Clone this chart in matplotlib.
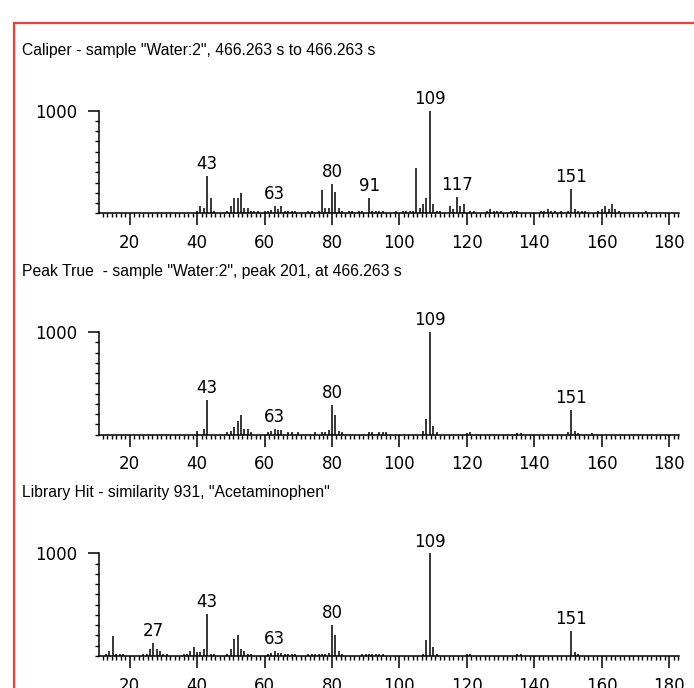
import matplotlib.pyplot as plt
from matplotlib.patches import Rectangle
from matplotlib.ticker import MultipleLocator, FixedLocator

# Caliper spectrum (m/z, intensity)
caliper_mz = [40, 41, 42, 43, 44, 45, 49, 50, 51, 52, 53, 54, 55, 56, 57, 58,
              60, 61, 62, 63, 64, 65, 66, 67, 68, 69, 73, 74, 76, 77, 78, 79, 80, 81, 82, 83,
              85, 86, 88, 89, 91, 92, 93, 94, 95, 99, 101, 102, 103, 104,
              105, 106, 107, 108, 109, 110, 111, 112, 115, 116, 117, 118, 119, 121, 122,
              126, 127, 128, 129, 130, 133, 134, 135, 142, 143, 144, 145, 146, 148,
              150, 151, 152, 153, 154, 155, 159, 160, 161, 162, 163, 164, 165, 173]
caliper_int = [23, 71, 55, 364, 149, 23, 26, 71, 149, 149, 195, 52, 52, 23, 23, 23,
               23, 23, 32, 71, 45, 71, 23, 23, 23, 23, 23, 23, 23, 227, 55, 55, 286, 208, 55, 23,
               23, 23, 23, 23, 149, 23, 23, 23, 23, 23, 23, 23, 23, 23,
               445, 55, 88, 153, 1000, 88, 23, 23, 71, 45, 162, 71, 88, 23, 23,
               23, 39, 23, 23, 23, 23, 23, 23, 23, 23, 39, 23, 23, 23,
               23, 240, 39, 23, 23, 23, 23, 45, 71, 45, 88, 45, 23, 23]
caliper_labels = [43, 63, 80, 91, 109, 117, 151]

# Deconvoluted peak spectrum
peak_mz = [40, 42, 43, 49, 50, 51, 52, 53, 54, 55, 56, 61, 62, 63, 64, 65, 67, 68, 70,
           75, 77, 78, 79, 80, 81, 82, 83, 91, 92, 94, 95, 96,
           107, 108, 109, 110, 111, 120, 121, 135, 136, 150, 151, 152, 153, 157]
peak_int = [39, 58, 341, 26, 36, 75, 136, 195, 58, 58, 26, 26, 36, 58, 45, 45, 26, 26, 26,
            26, 26, 26, 42, 292, 195, 39, 26, 26, 26, 26, 26, 26,
            39, 153, 1000, 88, 26, 20, 26, 20, 20, 26, 243, 39, 20, 20]
peak_labels = [43, 63, 80, 109, 151]

# Library reference spectrum
library_mz = [13, 14, 15, 16, 17, 18, 24, 25, 26, 27, 28, 29, 30, 31, 36, 37, 38, 39, 40, 41,
              42, 43, 44, 45, 49, 50, 51, 52, 53, 54, 55, 56, 61, 62, 63, 64, 65, 66, 67, 68, 69,
              73, 74, 75, 76, 77, 78, 79, 80, 81, 82, 83, 89, 90, 91, 92, 93, 94, 95,
              107, 108, 109, 110, 111, 120, 121, 135, 136, 151, 152, 153]
library_int = [16, 49, 195, 23, 23, 23, 23, 23, 65, 130, 65, 49, 23, 23, 23, 23, 49, 84, 39, 39,
               65, 406, 23, 23, 23, 65, 162, 205, 65, 49, 23, 23, 23, 32, 49, 32, 32, 23, 23, 23, 23,
               23, 23, 23, 23, 23, 23, 32, 299, 205, 49, 23, 23, 23, 23, 23, 23, 23, 23,
               23, 153, 1000, 88, 23, 23, 23, 23, 23, 243, 39, 23]
library_labels = [27, 43, 63, 80, 109, 151]

titles = ['Caliper - sample "Water:2", 466.263 s to 466.263 s',
          'Peak True  - sample "Water:2", peak 201, at 466.263 s',
          'Library Hit - similarity 931, "Acetaminophen"']

W, H = 694, 688
fig = plt.figure(figsize=(W / 100, H / 100), dpi=100)
plt.rcParams['font.family'] = ['DejaVu Sans']

# outer red frame, runs off the right and bottom edges
fig.patches.append(Rectangle((14 / W, -0.1), 1.2, 1 - 23 / H + 0.1, transform=fig.transFigure,
                             fill=False, edgecolor='#e8403a', linewidth=1.6, clip_on=False))


def draw_spectrum(ax, mz, inten, labels):
    ax.vlines(mz, 0, inten, color='black', linewidth=1.1)
    lookup = dict(zip(mz, inten))
    for m in labels:
        ax.annotate(str(m), (m, lookup[m]), xytext=(0, 2), textcoords='offset points',
                    ha='center', va='bottom', fontsize=12)
    ax.set_xlim(11, 182.9)
    ax.set_ylim(0, 1000)
    for side in ('top', 'right'):
        ax.spines[side].set_visible(False)
    for side in ('left', 'bottom'):
        ax.spines[side].set_linewidth(1.1)
    ax.xaxis.set_major_locator(MultipleLocator(20))
    ax.xaxis.set_minor_locator(MultipleLocator(20 / 15))
    ax.yaxis.set_major_locator(FixedLocator([1000]))
    ax.yaxis.set_minor_locator(MultipleLocator(100))
    ax.tick_params(axis='x', which='major', length=8.5, width=1.1, labelsize=12, pad=6.5)
    ax.tick_params(axis='x', which='minor', length=2.6, width=1.0)
    ax.tick_params(axis='y', which='major', length=8, width=1.1, labelsize=12, pad=8)
    ax.tick_params(axis='y', which='minor', length=3, width=1.0)


spectra = [(caliper_mz, caliper_int, caliper_labels),
           (peak_mz, peak_int, peak_labels),
           (library_mz, library_int, library_labels)]

left, right = 99.3 / W, 679 / W
for i, (mz, inten, labels) in enumerate(spectra):
    top_px = 110.7 + i * 221.3
    base_px = 213.3 + i * 221.3
    ax = fig.add_axes([left, 1 - base_px / H, right - left, (base_px - top_px) / H])
    draw_spectrum(ax, mz, inten, labels)
    fig.text(22 / W, 1 - (50 + i * 221.3) / H, titles[i], ha='left', va='center',
             fontsize=11.3, family=['Liberation Sans', 'DejaVu Sans'])

fig.savefig('out.png', dpi=100)
